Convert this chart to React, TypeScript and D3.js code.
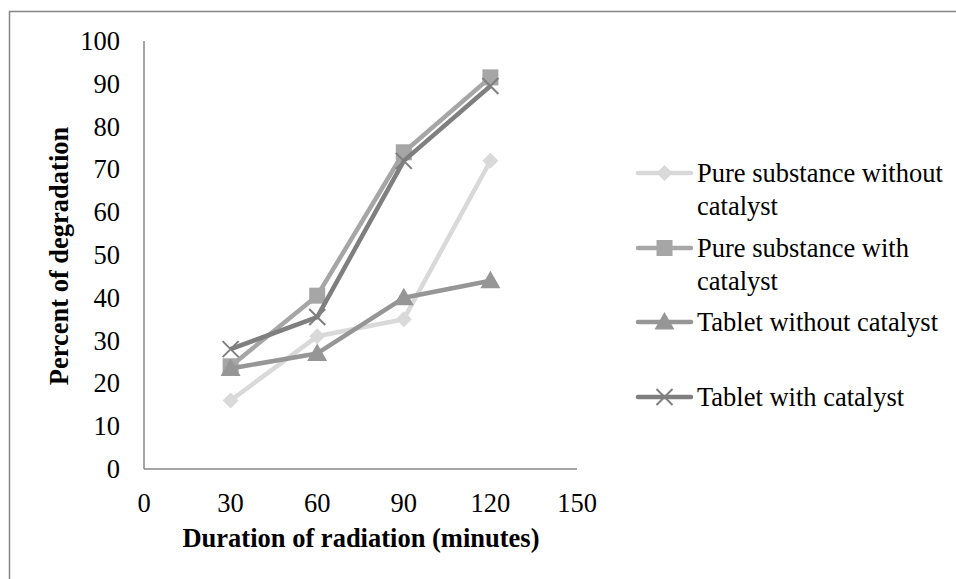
import React from "react";
import * as d3 from "d3";

const durations = [30, 60, 90, 120];
const pureWithout = [16, 31, 35, 72];
const pureWith = [24, 40.5, 74, 91.5];
const tabletWithout = [23.5, 27, 40, 44];
const tabletWith = [28, 35.5, 72, 89.5];

const seriesNames = [
  ["Pure substance without", "catalyst"],
  ["Pure substance with", "catalyst"],
  ["Tablet without catalyst"],
  ["Tablet with catalyst"],
];
const xTicks = [0, 30, 60, 90, 120, 150];
const yTicks = [0, 10, 20, 30, 40, 50, 60, 70, 80, 90, 100];

const FONT = '"Liberation Serif", "Times New Roman", Times, serif';

export default function App() {
  const x = d3.scaleLinear().domain([0, 150]).range([144, 577]);
  const y = d3.scaleLinear().domain([0, 100]).range([469, 41]);
  const line = d3
    .line<[number, number]>()
    .x((d) => x(d[0]))
    .y((d) => y(d[1]));

  const series = [
    { values: pureWithout, color: "#d9d9d9", marker: "diamond" },
    { values: pureWith, color: "#a6a6a6", marker: "square" },
    { values: tabletWithout, color: "#969696", marker: "triangle" },
    { values: tabletWith, color: "#7f7f7f", marker: "x" },
  ];

  const legendY = [173, 248, 322, 397];
  const fs = 26.5;

  const marker = (type: string, cx: number, cy: number, color: string, key: string) => {
    if (type === "diamond") {
      const s = 8;
      return (
        <path key={key} d={`M${cx},${cy - s}L${cx + s},${cy}L${cx},${cy + s}L${cx - s},${cy}Z`} fill={color} />
      );
    }
    if (type === "square") {
      const s = 8;
      return <rect key={key} x={cx - s} y={cy - s} width={2 * s} height={2 * s} fill={color} />;
    }
    if (type === "triangle") {
      const s = 10;
      return (
        <path key={key} d={`M${cx},${cy - s}L${cx + s},${cy + s * 0.75}L${cx - s},${cy + s * 0.75}Z`} fill={color} />
      );
    }
    const s = 8;
    return (
      <path
        key={key}
        d={`M${cx - s},${cy - s}L${cx + s},${cy + s}M${cx - s},${cy + s}L${cx + s},${cy - s}`}
        stroke={color}
        strokeWidth={2}
        fill="none"
      />
    );
  };

  return (
    <svg
      width={956}
      height={579}
      style={{ position: "absolute", left: 0, top: 0, background: "#fff", fontFamily: FONT }}
    >
      <rect x={9.5} y={11.5} width={960} height={600} fill="none" stroke="#868686" strokeWidth={1.5} />
      <line x1={x(0)} x2={x(0)} y1={y(0)} y2={y(100)} stroke="#868686" strokeWidth={1.5} />
      <line x1={x(0)} x2={x(150)} y1={y(0)} y2={y(0)} stroke="#868686" strokeWidth={1.5} />
      {yTicks.map((t) => (
        <text key={"y" + t} x={120} y={y(t) + 9} textAnchor="end" fontSize={fs} fill="#000">
          {t}
        </text>
      ))}
      {xTicks.map((t) => (
        <text key={"x" + t} x={x(t)} y={512} textAnchor="middle" fontSize={fs} fill="#000">
          {t}
        </text>
      ))}
      <text x={361} y={547} textAnchor="middle" fontSize={fs} fontWeight="bold">
        Duration of radiation (minutes)
      </text>
      <text
        transform={`translate(68,256) rotate(-90)`}
        textAnchor="middle"
        fontSize={fs}
        fontWeight="bold"
      >
        Percent of degradation
      </text>
      {series.map((s, i) => {
        const pts = durations.map((d, j) => [d, s.values[j]] as [number, number]);
        return (
          <g key={"s" + i}>
            <path d={line(pts) || ""} fill="none" stroke={s.color} strokeWidth={4.5} strokeLinejoin="round" />
            {pts.map((p, j) => marker(s.marker, x(p[0]), y(p[1]), s.color, `m${i}-${j}`))}
          </g>
        );
      })}
      {series.map((s, i) => (
        <g key={"l" + i}>
          <line x1={638} x2={691} y1={legendY[i]} y2={legendY[i]} stroke={s.color} strokeWidth={4.5} strokeLinecap="round" />
          {marker(s.marker, 664.5, legendY[i], s.color, "lm" + i)}
          {seriesNames[i].map((t, k) => (
            <text key={k} x={697} y={legendY[i] + 9 + k * 33} fontSize={fs}>
              {t}
            </text>
          ))}
        </g>
      ))}
    </svg>
  );
}
